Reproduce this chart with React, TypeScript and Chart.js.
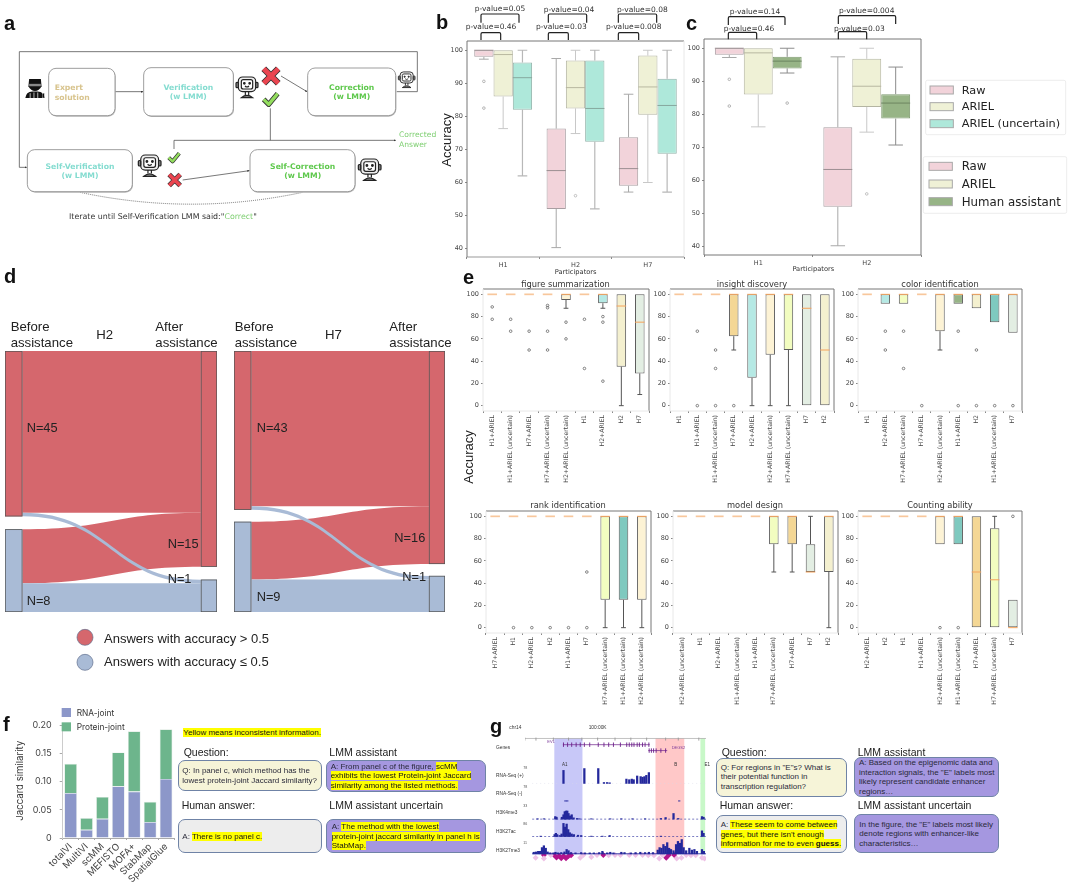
import React, { useEffect, useRef } from "react";
import { Chart, registerables } from "chart.js";
Chart.register(...registerables);

const DJ = "'DejaVu Sans', sans-serif";
const AR = "'Liberation Sans', Arial, sans-serif";
const IN = "Inter, sans-serif";

/* ---------- panel b / c : [low whisker, q1, median, q3, high whisker] ---------- */
const bCats = ["H1", "H2", "H7"];
const bRaw = [[97.3, 98, 100, 100, 100], [40.3, 52, 63.6, 76.3, 97.5], [57.1, 59, 64.2, 73.7, 86.7]];
const bRawFliers = [[90.6, 82.5], [], []];
const bAriel = [[76.3, 86, 98.7, 100, 100], [74.8, 82.4, 88.7, 96.9, 100], [60, 80.5, 88.9, 98.4, 100]];
const bArielFliers = [[], [56], []];
const bUnc = [[62, 82, 91.7, 96.3, 100], [52, 72.3, 82.4, 96.9, 100], [57.1, 68.7, 83.3, 91.4, 100]];
const bUncFliers = [[], [], []];
const cCats = ["H1", "H2"];
const cRaw = [[97.2, 98, 100, 100, 100], [40.2, 52, 63.3, 76.1, 97.4]];
const cRawFliers = [[90.6, 82.5], []];
const cAriel = [[76.2, 86, 98.6, 100, 100], [74.6, 82.2, 88.5, 96.8, 100]];
const cArielFliers = [[], [55.9]];
const cHuman = [[92.5, 93.9, 96.1, 97.4, 100], [70.7, 78.7, 83.4, 86.1, 94.3]];
const cHumanFliers = [[83.4], []];

/* ---------- panel e ---------- */
const F = [100, 100, 100, 100, 100];
const e1Labels = ["H1+ARIEL", "H1+ARIEL (uncertain)", "H7+ARIEL", "H7+ARIEL (uncertain)", "H2+ARIEL (uncertain)", "H1", "H2+ARIEL", "H2", "H7"];
const e1Stats = [F, F, F, F, [87.5, 95, 100, 100, 100], F, [87.5, 92, 100, 100, 100], [0, 35, 89.5, 100, 100], [10, 29, 75, 100, 100]];
const e1Fliers = [[88.7, 77.6], [77.6, 66.9], [66.9, 50], [90, 88, 66.9, 50], [75, 60], [77.6, 33.4], [80, 75, 22], [], []];
const e2Labels = ["H1", "H1+ARIEL", "H1+ARIEL (uncertain)", "H7+ARIEL", "H2+ARIEL", "H2+ARIEL (uncertain)", "H7+ARIEL (uncertain)", "H7", "H2"];
const e2Stats = [F, F, F, [50, 62.4, 100, 100, 100], [0, 25, 100, 100, 100], [0, 45.7, 100, 100, 100], [0, 50, 100, 100, 100], [0, 0, 87.5, 100, 100], [0, 0, 50, 100, 100]];
const e2Fliers = [[], [66.9, 0], [50, 33.4, 0], [0], [], [], [], [], []];
const e3Labels = ["H1", "H2+ARIEL", "H7+ARIEL (uncertain)", "H7+ARIEL", "H2+ARIEL (uncertain)", "H1+ARIEL", "H2", "H1+ARIEL (uncertain)", "H7"];
const e3Stats = [F, [91.5, 91.5, 100, 100, 100], [91.5, 91.5, 100, 100, 100], F, [50, 66.9, 100, 100, 100], [91.5, 91.5, 100, 100, 100], [87.5, 87.5, 100, 100, 100], [75, 75, 100, 100, 100], [65.5, 65.5, 100, 100, 100]];
const e3Fliers = [[], [66.9, 50], [66.9, 33.4], [0], [], [66.9, 0], [50, 0], [0], [0]];
const e4Labels = ["H7+ARIEL", "H1", "H2+ARIEL", "H2", "H1+ARIEL", "H7", "H7+ARIEL (uncertain)", "H1+ARIEL (uncertain)", "H2+ARIEL (uncertain)"];
const e4Stats = [F, F, F, F, F, F, [0, 25, 100, 100, 100], [0, 25, 100, 100, 100], [0, 25, 100, 100, 100]];
const e4Fliers = [[], [0], [0], [0], [0], [50, 0], [], [], []];
const e5Labels = ["H2+ARIEL (uncertain)", "H1", "H2+ARIEL", "H1+ARIEL (uncertain)", "H1+ARIEL", "H7+ARIEL (uncertain)", "H7+ARIEL", "H7", "H2"];
const e5Stats = [F, F, F, F, F, [50, 75, 100, 100, 100], [50, 75, 100, 100, 100], [50, 50, 50, 75, 100], [0, 50, 100, 100, 100]];
const e5Fliers = [[], [], [], [], [], [], [], [], []];
const e6Labels = ["H2+ARIEL", "H2", "H1", "H1+ARIEL", "H2+ARIEL (uncertain)", "H1+ARIEL (uncertain)", "H7+ARIEL", "H7+ARIEL (uncertain)", "H7"];
const e6Stats = [F, F, F, F, [75, 75, 100, 100, 100], [75, 75, 100, 100, 100], [0, 0, 50, 100, 100], [0, 0, 43, 89.3, 100], [0, 0, 0, 25, 25]];
const e6Fliers = [[], [], [], [], [0], [0], [], [], [100]];

const boxColorByLabel: Record<string, string> = {
  H1: "#f2d3da", H2: "#f4f0cf", H7: "#e3eee3",
  "H1+ARIEL": "#97b486", "H2+ARIEL": "#b5e9e4", "H7+ARIEL": "#f4d795",
  "H1+ARIEL (uncertain)": "#7fc9bf", "H2+ARIEL (uncertain)": "#fdf3d5", "H7+ARIEL (uncertain)": "#f2fdc0",
};

/* ---------- panel d ---------- */
const h2Flows = { redRed: 45, redBlue: 1, blueRed: 15, blueBlue: 8 };
const h7Flows = { redRed: 43, redBlue: 1, blueRed: 16, blueBlue: 9 };

/* ---------- panel f ---------- */
const fMethods = ["totalVI", "MultiVI", "scMM", "MEFISTO", "MOFA+", "StabMap", "SpatialGlue"];
const fRna = [0.08, 0.0145, 0.034, 0.092, 0.0826, 0.0285, 0.105];
const fProtein = [0.052, 0.021, 0.039, 0.06, 0.107, 0.036, 0.088];

/* ---------- panel g : [position, signal] ---------- */
const rnaPlus = [[212, 42], [278, 48], [322, 48], [340, 3], [350, 3], [358, 2], [411, 14], [420, 12], [428, 14], [434, 12], [445, 24], [456, 22], [462, 20], [468, 22], [474, 26], [482, 35]];
const rnaMinus = [[218, 1], [224, 1], [578, 1]];
const k4me3 = [[130, 1], [150, 1], [186, 8], [190, 6], [207, 6], [212, 14], [216, 24], [220, 26], [224, 26], [228, 18], [233, 10], [238, 14], [244, 4], [255, 2], [262, 1], [300, 1], [360, 1], [395, 1], [430, 1], [470, 1], [520, 2], [535, 5], [560, 18], [575, 2], [650, 8], [655, 6]];
const k27ac = [[140, 1], [184, 6], [188, 10], [192, 6], [200, 3], [206, 8], [212, 42], [217, 30], [222, 40], [227, 22], [232, 12], [238, 8], [245, 6], [258, 4], [268, 3], [300, 1], [335, 1], [358, 3], [520, 1], [650, 18], [655, 10]];
const k27me3 = [[118, 5], [125, 6], [132, 8], [138, 8], [144, 20], [150, 26], [156, 18], [162, 6], [170, 3], [180, 3], [187, 5], [195, 3], [205, 4], [215, 6], [222, 14], [228, 10], [236, 4], [250, 3], [268, 4], [280, 3], [295, 3], [308, 3], [325, 4], [335, 8], [350, 3], [360, 5], [370, 3], [395, 5], [405, 4], [425, 3], [440, 4], [455, 5], [470, 4], [482, 5], [495, 4], [510, 12], [516, 20], [522, 18], [528, 30], [534, 24], [540, 36], [546, 18], [552, 14], [560, 10], [568, 30], [574, 40], [580, 34], [586, 46], [592, 20], [600, 10], [610, 18], [618, 12], [626, 14], [634, 8], [650, 14], [656, 8]];
const peaksLight = [[124, 17], [150, 15], [172, 26], [265, 17], [275, 26], [300, 20], [318, 26], [355, 25], [375, 26], [392, 26], [420, 26], [440, 26], [462, 26], [480, 25], [498, 25], [515, 15], [525, 26], [570, 15], [585, 17], [600, 26], [615, 25], [630, 25], [650, 17], [658, 15]];
const peaksDark = [[150, 26], [183, 25], [190, 18], [198, 24], [205, 16], [212, 23], [220, 16], [228, 23], [236, 25], [338, 26], [537, 17], [545, 26], [562, 26]];
const geneExons1 = [212, 225, 238, 252, 265, 278, 295, 322, 340, 355, 370, 392, 412, 420, 428, 435, 445, 452, 462, 470, 482];
const geneExons2 = [483, 490, 497, 505, 520, 535];
const rulerTicks = [90, 125, 180, 228, 270, 320, 375, 425, 475, 535, 575, 640];

/* ---------- plugins ---------- */
const boxPlugin = {
  id: "boxes",
  beforeDatasetsDraw(chart: any) {
    const { ctx } = chart;
    const y = chart.scales.y;
    chart.data.datasets.forEach((ds: any, i: number) => {
      chart.getDatasetMeta(i).data.forEach((el: any, j: number) => {
        const [lo, q1, , q3, hi] = ds.stats[j];
        const cap = el.width / 4;
        ctx.save();
        ctx.strokeStyle = ds.whisker;
        ctx.lineWidth = ds.whiskerWidth || 1;
        ctx.beginPath();
        if (lo < q1) {
          ctx.moveTo(el.x, y.getPixelForValue(q1)); ctx.lineTo(el.x, y.getPixelForValue(lo));
          ctx.moveTo(el.x - cap, y.getPixelForValue(lo)); ctx.lineTo(el.x + cap, y.getPixelForValue(lo));
        }
        if (hi > q3) {
          ctx.moveTo(el.x, y.getPixelForValue(q3)); ctx.lineTo(el.x, y.getPixelForValue(hi));
          ctx.moveTo(el.x - cap, y.getPixelForValue(hi)); ctx.lineTo(el.x + cap, y.getPixelForValue(hi));
        }
        ctx.stroke();
        ctx.restore();
      });
    });
  },
  afterDatasetsDraw(chart: any, _a: any, opts: any) {
    const { ctx, chartArea: ca } = chart;
    const y = chart.scales.y;
    chart.data.datasets.forEach((ds: any, i: number) => {
      chart.getDatasetMeta(i).data.forEach((el: any, j: number) => {
        const st = ds.stats[j];
        const flat = st[0] === st[4];
        const med = y.getPixelForValue(st[2]);
        ctx.save();
        ctx.strokeStyle = flat && ds.flatMedian ? ds.flatMedian : ds.median;
        ctx.lineWidth = flat && ds.flatMedian ? 1.7 : 1;
        ctx.beginPath();
        ctx.moveTo(el.x - el.width / 2, med);
        ctx.lineTo(el.x + el.width / 2, med);
        ctx.stroke();
        ctx.strokeStyle = ds.flierColor || "#777";
        ctx.lineWidth = 0.7;
        ds.fliers[j].forEach((v: number) => {
          ctx.beginPath();
          ctx.arc(el.x, y.getPixelForValue(v), 1.3, 0, Math.PI * 2);
          ctx.stroke();
        });
        ctx.restore();
      });
    });
    const s = opts.spines;
    ctx.save();
    ctx.lineWidth = 1;
    const ln = (c: string, a: number, b: number, d: number, e: number) => {
      ctx.strokeStyle = c; ctx.beginPath(); ctx.moveTo(a, b); ctx.lineTo(d, e); ctx.stroke();
    };
    ln(s[0], ca.left, ca.top, ca.right, ca.top);
    ln(s[1], ca.right, ca.top, ca.right, ca.bottom);
    ln(s[2], ca.left, ca.bottom, ca.right, ca.bottom);
    ln(s[3], ca.left, ca.top, ca.left, ca.bottom);
    ctx.restore();
  },
};

const RED = "#d5676d";
const BLUE = "#a9bbd6";
function sankeyPlugin(fl: any, gap: number) {
  return {
    id: "sankey",
    afterDatasetsDraw(chart: any) {
      const { ctx } = chart;
      const X = chart.scales.x, Y = chart.scales.y;
      const xa = X.getPixelForValue(0.082), xb = X.getPixelForValue(0.924);
      const ribbon = (t0: number, t1: number, n: number, c: string) => {
        const a0 = Y.getPixelForValue(t0), a1 = Y.getPixelForValue(t0 + n);
        const b0 = Y.getPixelForValue(t1), b1 = Y.getPixelForValue(t1 + n);
        const m = (xa + xb) / 2;
        ctx.fillStyle = c;
        ctx.beginPath();
        ctx.moveTo(xa, a0);
        ctx.bezierCurveTo(m, a0, m, b0, xb, b0);
        ctx.lineTo(xb, b1);
        ctx.bezierCurveTo(m, b1, m, a1, xa, a1);
        ctx.closePath();
        ctx.fill();
      };
      const leftRed = fl.redRed + fl.redBlue;
      const leftBlue = leftRed + gap;
      const rightRed = fl.redRed + fl.blueRed;
      const rightBlue = rightRed + gap;
      ribbon(0, 0, fl.redRed, RED);
      ribbon(leftBlue, fl.redRed, fl.blueRed, RED);
      ribbon(leftBlue + fl.blueRed, rightBlue + fl.redBlue, fl.blueBlue, BLUE);
      ribbon(fl.redRed, rightBlue, fl.redBlue, BLUE);
      const node = (x0: number, x1: number, t: number, n: number, c: string) => {
        const l = X.getPixelForValue(x0), r = X.getPixelForValue(x1);
        const a = Y.getPixelForValue(t), b = Y.getPixelForValue(t + n);
        ctx.fillStyle = c;
        ctx.fillRect(l, a, r - l, b - a);
        ctx.strokeStyle = "#555";
        ctx.lineWidth = 0.8;
        ctx.strokeRect(l + 0.3, a + 0.3, r - l - 0.6, b - a - 0.6);
      };
      node(0, 0.082, 0, leftRed, RED);
      node(0, 0.082, leftBlue, fl.blueRed + fl.blueBlue, BLUE);
      node(0.924, 1, 0, rightRed, RED);
      node(0.924, 1, rightBlue, fl.redBlue + fl.blueBlue, BLUE);
    },
  };
}

/* ---------- components ---------- */
function Cv({ x, y, w, h, make }: any) {
  const ref = useRef<HTMLCanvasElement>(null);
  useEffect(() => {
    const c = new Chart(ref.current as any, make());
    return () => c.destroy();
  }, []);
  return <canvas ref={ref} width={w} height={h} style={{ position: "absolute", left: x, top: y, width: w, height: h, display: "block" }} />;
}

function BoxChart({ rect, cats, series, yMin, yMax, step, pct, bar, spines, rot, mL, mB, fs }: any) {
  const [l, t, r, b] = rect;
  const mT = 8, mR = 8;
  const w = Math.round(r - l + mL + mR), h = Math.round(b - t + mT + mB);
  return (
    <Cv x={l - mL} y={t - mT} w={w} h={h} make={() => ({
      type: "bar",
      data: {
        labels: cats,
        datasets: series.map((s: any) => ({
          label: s.label,
          data: s.stats.map((v: number[]) => [v[1], v[3]]),
          stats: s.stats, fliers: s.fliers, whisker: s.whisker, median: s.median, flatMedian: s.flatMedian,
          whiskerWidth: s.whiskerWidth, flierColor: s.flierColor,
          backgroundColor: s.color, borderColor: s.edge, borderWidth: 1, borderSkipped: false,
          categoryPercentage: pct, barPercentage: bar,
        })),
      },
      options: {
        animation: false, responsive: false,
        layout: { padding: { top: mT, right: mR, left: 0, bottom: 0 } },
        plugins: { legend: { display: false }, tooltip: { enabled: false }, boxes: { spines } },
        scales: {
          x: {
            border: { display: false },
            grid: { display: true, drawOnChartArea: false, drawTicks: true, tickLength: 2, tickColor: "#888" },
            ticks: { font: { family: DJ, size: fs }, color: "#444", padding: 2, autoSkip: false, maxRotation: rot, minRotation: rot },
            afterFit: (s: any) => { s.height = mB; },
          },
          y: {
            min: yMin, max: yMax,
            border: { display: false },
            grid: { display: true, drawOnChartArea: false, drawTicks: true, tickLength: 2, tickColor: "#888" },
            ticks: { stepSize: step, includeBounds: false, font: { family: DJ, size: 6.5 }, color: "#444", padding: 2 },
            afterFit: (s: any) => { s.width = mL; },
          },
        },
      },
      plugins: [boxPlugin],
    })} />
  );
}

function singleSeries(labels: string[], stats: number[][], fliers: number[][]) {
  return [{
    label: "Accuracy", stats, fliers,
    color: labels.map((k) => boxColorByLabel[k]),
    edge: "#5a5a5a", whisker: "#555", median: "#f6a35a", flatMedian: "#f8c79c", flierColor: "#555",
  }];
}

function EBox({ rect, labels, stats, fliers, spines }: any) {
  return <BoxChart rect={rect} cats={labels} series={singleSeries(labels, stats, fliers)} yMin={-4.8} yMax={104.8} step={20} pct={1} bar={0.52} spines={spines} rot={90} mL={24} mB={78} fs={6.2} />;
}

function Sankey({ x, w, flows, total, gap }: any) {
  return (
    <Cv x={x} y={351} w={w} h={261} make={() => ({
      type: "scatter",
      data: { datasets: [{ data: [] }] },
      options: {
        animation: false, responsive: false,
        plugins: { legend: { display: false }, tooltip: { enabled: false } },
        scales: {
          x: { type: "linear", min: 0, max: 1, display: false },
          y: { type: "linear", min: 0, max: total, reverse: true, display: false },
        },
      },
      plugins: [sankeyPlugin(flows, gap)],
    })} />
  );
}

const regions = [[183, 272], [503, 594], [645, 660]];
const regionFills = ["#c8c8f8", "#ffc8c8", "#c8f8c8"];
const regionPlugin = {
  id: "regions",
  beforeDatasetsDraw(chart: any) {
    const { ctx } = chart;
    const X = chart.scales.x, Y = chart.scales.y;
    regions.forEach(([a, b], i) => {
      ctx.fillStyle = regionFills[i];
      const top = Y.getPixelForValue(402), bot = Y.getPixelForValue(30);
      ctx.fillRect(X.getPixelForValue(a), top, X.getPixelForValue(b) - X.getPixelForValue(a), bot - top);
    });
  },
};

function GenomeChart() {
  const toBars = (arr: number[][], base: number) => arr.map(([x, v]) => ({ x, y: [base, base + v] }));
  const bars = [...toBars(rnaPlus, 257), ...toBars(rnaMinus, 200), ...toBars(k4me3, 142), ...toBars(k27ac, 86), ...toBars(k27me3, 30)];
  const line = (pts: number[][], color: string, w: number, dash?: number[]) => ({
    type: "line", data: pts.map(([x, y]) => ({ x, y })), borderColor: color, borderWidth: w, pointRadius: 0, borderDash: dash || [], tension: 0,
  });
  const marks = (xs: number[], row: number, color: string, style: string, rot: number, r: number) => ({
    type: "scatter", data: xs.map((x) => ({ x, y: row })), pointStyle: style, rotation: rot, pointRadius: r,
    borderColor: color, backgroundColor: color, borderWidth: 0.9,
  });
  const pts = (arr: number[][], color: string) => ({
    type: "scatter", data: arr.map(([x, y]) => ({ x, y })), pointStyle: "rectRot", pointRadius: 3, backgroundColor: color, borderWidth: 0,
  });
  return (
    <Cv x={520} y={728} w={191} h={140} make={() => ({
      data: {
        datasets: [
          { type: "bar", data: bars, backgroundColor: "#24289c", barThickness: 1.6, grouped: false },
          line([[113, 257], [663, 257]], "#d8d8e8", 0.5, [1, 3]),
          line([[113, 142], [663, 142]], "#24289c", 0.6, [2, 2]),
          line([[113, 86], [663, 86]], "#24289c", 0.6, [2, 2]),
          line([[113, 30], [663, 30]], "#24289c", 0.9),
          line([[90, 402], [663, 402]], "#999", 0.6),
          marks(rulerTicks, 400, "#999", "line", 90, 1.5),
          line([[210, 382], [485, 382]], "#6b1f8a", 0.7),
          marks(geneExons1, 382, "#6b1f8a", "line", 90, 2.2),
          line([[480, 363], [540, 363]], "#6b1f8a", 0.7),
          marks(geneExons2, 363, "#6b1f8a", "line", 90, 2.2),
          pts(peaksLight, "#eec2e6"),
          pts(peaksDark, "#b3148c"),
        ],
      },
      options: {
        animation: false, responsive: false,
        plugins: { legend: { display: false }, tooltip: { enabled: false } },
        scales: {
          x: { type: "linear", min: 90, max: 663, display: false, offset: false },
          y: { type: "linear", min: 0, max: 420, display: false },
        },
      },
      plugins: [regionPlugin],
    })} />
  );
}

function Z({ ox, oy, children }: any) {
  return <g transform={`translate(${ox} ${oy}) scale(${1 / 3})`}>{children}</g>;
}
function Tx({ x, y, s, f, c, a, b, rot, children }: any) {
  return (
    <text x={x} y={y} fontSize={s * 3} fontFamily={f || AR} fill={c || "#222"} textAnchor={a || "start"} dominantBaseline="central"
      fontWeight={b ? "bold" : "normal"} transform={rot ? `rotate(${rot} ${x} ${y})` : undefined}>{children}</text>
  );
}
function Robot({ x, y, s }: any) {
  const k = s / 66;
  return (
    <g transform={`translate(${x} ${y}) scale(${k})`} stroke="#222" fill="none" strokeWidth="3.5">
      <rect x="-26" y="-32" width="52" height="44" rx="13" fill="#eee" />
      <rect x="-17" y="-24" width="34" height="28" rx="6" fill="#fff" />
      <rect x="-33" y="-16" width="7" height="16" rx="3" fill="#888" />
      <rect x="26" y="-16" width="7" height="16" rx="3" fill="#888" />
      <circle cx="-8" cy="-13" r="2.4" fill="#222" />
      <circle cx="8" cy="-13" r="2.4" fill="#222" />
      <path d="M-6 -5 Q0 1 6 -5" />
      <path d="M-5 12 V22 M5 12 V22" />
      <path d="M-17 30 Q0 16 17 30 Z" fill="#888" />
    </g>
  );
}
function Human({ x, y, s }: any) {
  const k = s / 56;
  return (
    <g transform={`translate(${x} ${y}) scale(${k})`}>
      <path d="M-17 -27 H17 L19 -6 Q12 8 0 8 Q-12 8 -19 -6 Z" fill="#111" />
      <rect x="-17" y="-13" width="34" height="7" fill="#888" />
      <path d="M-28 28 Q-26 10 -8 9 H8 Q26 10 28 28 Z" fill="#111" />
      <path d="M-14 14 V28 M-3 12 V28 M8 12 V28" stroke="#fff" strokeWidth="2" />
      <rect x="22" y="14" width="5" height="14" fill="#111" stroke="#fff" />
    </g>
  );
}
function Mark({ x, y, s, kind }: any) {
  const d = kind === "x" ? "M-.33 -.33 L.33 .33 M.33 -.33 L-.33 .33" : "M-.36 .02 L-.1 .28 L.36 -.28";
  const fill = kind === "x" ? "#ea4550" : "#93dd5e";
  const outer = kind === "x" ? 0.3 : 0.26;
  const inner = kind === "x" ? 0.22 : 0.17;
  return (
    <g transform={`translate(${x} ${y}) scale(${s})`} fill="none">
      <path d={d} stroke="#333" strokeWidth={outer} strokeLinejoin="round" />
      <path d={d} stroke={fill} strokeWidth={inner} strokeLinejoin="round" />
    </g>
  );
}
function StepBox({ x, y, w, h, c, lines, tx, b }: any) {
  return (
    <g>
      <rect x={x + 2} y={y + 3} width={w} height={h} rx="22" fill="#bbb" />
      <rect x={x} y={y} width={w} height={h} rx="22" fill="#fff" stroke="#8a8a8a" strokeWidth="2.5" />
      {lines.map((t: string, i: number) => (
        <Tx key={i} x={tx} y={y + h / 2 - 14 + i * 29} s={7.7} f={DJ} c={c} a={!b ? "middle" : "start"} b>{t}</Tx>
      ))}
    </g>
  );
}
function Bracket({ x0, x1, y0, y1 }: any) {
  return <path d={`M${x0} ${y1} V${y0 + 4} Q${x0} ${y0} ${x0 + 4} ${y0} H${x1 - 4} Q${x1} ${y0} ${x1} ${y0 + 4} V${y1}`} fill="none" stroke="#222" strokeWidth="3.6" />;
}
function LegendBox({ x, y, w, h, items }: any) {
  return (
    <g>
      <rect x={x} y={y} width={w} height={h} rx="5" fill="#fff" stroke="#e4e4e4" strokeWidth="2" />
      {items.map((it: any, i: number) => (
        <g key={i}>
          <rect x={it.px} y={it.y - 12} width={70} height={24} fill={it.c} stroke="#a8a8a8" strokeWidth="3" />
          <Tx x={it.tx} y={it.y} s={it.s} f={DJ} c="#222">{it.t}</Tx>
        </g>
      ))}
    </g>
  );
}

function Lines({ ox, oy, x, ys, runs, size }: any) {
  return (
    <>
      {runs.map((r: any[], i: number) => (
        <div key={i} style={{ position: "absolute", left: ox + x / 3, top: oy + ys[i] / 3 - 5, lineHeight: "10px", height: 10, fontSize: size || 8, whiteSpace: "pre", fontFamily: AR, color: "#222" }}>
          {r.map((p: any, j: number) => (
            <span key={j} style={{ background: p.h ? "#ffff00" : "transparent", fontWeight: p.b ? "bold" : "normal", color: p.h ? "#111" : "#2a2a3a" }}>{p.t}</span>
          ))}
        </div>
      ))}
    </>
  );
}
function RBox({ ox, oy, x0, x1, y0, y1, fill }: any) {
  return <div style={{ position: "absolute", left: ox + x0 / 3, top: oy + y0 / 3, width: (x1 - x0) / 3, height: (y1 - y0) / 3, boxSizing: "border-box", background: fill, border: "1px solid #6f83a6", borderRadius: 7 }} />;
}

const rawStyle = { color: "#f2d3da", edge: "#a99ea2", whisker: "#a8a8a8", median: "#9c8f92" };
const arielStyle = { color: "#eff1d6", edge: "#b4b5a2", whisker: "#c8c8c8", median: "#b8b8a0" };
const uncStyle = { color: "#aee8da", edge: "#93b3aa", whisker: "#b8b8b8", median: "#86a89e", whiskerWidth: 1.2 };
const humanStyle = { color: "#97b486", edge: "#7f9a70", whisker: "#8c8c8c", median: "#6c8560" };

export default function App() {
  const sp1 = ["#777", "#777", "#e8e8e8", "#e8e8e8"];
  const PANELS: [string, number, number][] = [["a", 4, 23], ["b", 436, 22], ["c", 686, 23], ["d", 4, 276], ["e", 463, 277], ["f", 3, 724], ["g", 490, 726]];
  return (
    <div style={{ position: "absolute", left: 0, top: 0, width: 1080, height: 893, overflow: "hidden", background: "#fff" }}>
      <BoxChart rect={[466.7, 40.7, 684, 256.7]} cats={bCats} pct={0.8} bar={1} yMin={37.46} yMax={102.8} step={10} rot={0} mL={24} mB={12} fs={6.5}
        spines={["#777", "#e8e8e8", "#999", "#777"]}
        series={[
          { label: "Raw", stats: bRaw, fliers: bRawFliers, flierColor: "#999", ...rawStyle },
          { label: "ARIEL", stats: bAriel, fliers: bArielFliers, flierColor: "#aaa", ...arielStyle },
          { label: "ARIEL (uncertain)", stats: bUnc, fliers: bUncFliers, ...uncStyle },
        ]} />
      <BoxChart rect={[704.3, 39.3, 921.7, 255.3]} cats={cCats} pct={0.8} bar={1} yMin={37.4} yMax={102.8} step={10} rot={0} mL={20} mB={12} fs={6.5}
        spines={["#777", "#777", "#777", "#777"]}
        series={[
          { label: "Raw", stats: cRaw, fliers: cRawFliers, flierColor: "#999", ...rawStyle },
          { label: "ARIEL", stats: cAriel, fliers: cArielFliers, flierColor: "#aaa", ...arielStyle },
          { label: "Human assistant", stats: cHuman, fliers: cHumanFliers, flierColor: "#999", ...humanStyle },
        ]} />

      <Sankey x={5} w={212} flows={h2Flows} total={72.6} gap={3.6} />
      <Sankey x={234} w={211} flows={h7Flows} total={72.3} gap={3.3} />

      <EBox rect={[482.7, 289.3, 648.3, 411.7]} labels={e1Labels} stats={e1Stats} fliers={e1Fliers} spines={sp1} />
      <EBox rect={[670, 289.3, 834.3, 411.7]} labels={e2Labels} stats={e2Stats} fliers={e2Fliers} spines={sp1} />
      <EBox rect={[858.3, 289.3, 1022.3, 411.7]} labels={e3Labels} stats={e3Stats} fliers={e3Fliers} spines={sp1} />
      <EBox rect={[486, 510.7, 651, 632.7]} labels={e4Labels} stats={e4Stats} fliers={e4Fliers} spines={sp1} />
      <EBox rect={[672.7, 510.7, 837.7, 632.7]} labels={e5Labels} stats={e5Stats} fliers={e5Fliers} spines={sp1} />
      <EBox rect={[858.3, 510.7, 1022.3, 632.7]} labels={e6Labels} stats={e6Stats} fliers={e6Fliers} spines={sp1} />

      <Cv x={1} y={712} w={180} h={181} make={() => ({
        type: "bar",
        data: {
          labels: fMethods,
          datasets: [
            { label: "RNA-joint", data: fRna, backgroundColor: "#8c97c9", borderColor: "#dce4e8", borderWidth: 0.7, barPercentage: 0.8, categoryPercentage: 1 },
            { label: "Protein-joint", data: fProtein, backgroundColor: "#6db58c", borderColor: "#dce8e0", borderWidth: 0.7, barPercentage: 0.8, categoryPercentage: 1 },
          ],
        },
        options: {
          animation: false, responsive: false,
          layout: { padding: { top: 0, right: 7, left: 0, bottom: 0 } },
          plugins: { legend: { display: false }, tooltip: { enabled: false } },
          scales: {
            x: {
              stacked: true, border: { color: "#aaa" },
              grid: { display: true, drawOnChartArea: false, drawTicks: true, tickLength: 2, tickColor: "#aaa" },
              ticks: { font: { family: IN, size: 9.5 }, color: "#444", padding: 1, autoSkip: false, maxRotation: 45, minRotation: 45 },
              afterFit: (s: any) => { s.height = 55; },
            },
            y: {
              stacked: true, min: 0, max: 0.2,
              border: { color: "#ccc" },
              grid: { display: true, drawOnChartArea: false, drawTicks: true, tickLength: 3, tickColor: "#aaa" },
              ticks: { stepSize: 0.05, font: { family: IN, size: 9 }, color: "#444", padding: 8, callback: (v: number) => (v === 0 ? "0" : v.toFixed(2)) },
              afterFit: (s: any) => { s.width = 61.7; },
            },
          },
        },
      })} />

      <GenomeChart />

      <RBox ox={175} oy={695} x0={8} x1={440} y0={196} y1={288} fill="#f6f4d8" />
      <RBox ox={175} oy={695} x0={454} x1={932} y0={195} y1={290} fill="#a597e0" />
      <RBox ox={175} oy={695} x0={8} x1={442} y0={373} y1={475} fill="#ededed" />
      <RBox ox={175} oy={695} x0={454} x1={932} y0={373} y1={475} fill="#a597e0" />
      <RBox ox={715} oy={695} x0={4} x1={395} y0={188} y1={305} fill="#f6f4d8" />
      <RBox ox={715} oy={695} x0={417} x1={851} y0={187} y1={306} fill="#a597e0" />
      <RBox ox={715} oy={695} x0={4} x1={395} y0={361} y1={475} fill="#ededed" />
      <RBox ox={715} oy={695} x0={418} x1={852} y0={358} y1={475} fill="#a597e0" />

      <Lines ox={175} oy={695} x={25} ys={[114]} runs={[[{ t: "Yellow means inconsistent information.", h: 1 }]]} />
      <Lines ox={175} oy={695} x={22} ys={[229, 258]} runs={[[{ t: "Q: In panel c, which method has the" }], [{ t: "lowest protein-joint Jaccard similarity?" }]]} />
      <Lines ox={175} oy={695} x={467} ys={[215, 244, 273]} runs={[
        [{ t: "A: From panel c of the figure, " }, { t: "scMM", h: 1 }],
        [{ t: "exhibits the lowest Protein-joint Jaccard", h: 1 }],
        [{ t: "similarity among the listed methods.", h: 1 }],
      ]} />
      <Lines ox={175} oy={695} x={22} ys={[426]} runs={[[{ t: "A: " }, { t: "There is no panel c.", h: 1 }]]} />
      <Lines ox={175} oy={695} x={470} ys={[397, 426, 454]} runs={[
        [{ t: "A: " }, { t: "The method with the lowest", h: 1 }],
        [{ t: "protein-joint jaccard similarity in panel h is", h: 1 }],
        [{ t: "StabMap.", h: 1 }],
      ]} />
      <Lines ox={715} oy={695} x={17} ys={[218, 247, 276]} runs={[
        [{ t: "Q: For regions in \"E\"s? What is" }], [{ t: "their potential function in" }], [{ t: "transcription regulation?" }],
      ]} />
      <Lines ox={715} oy={695} x={432} ys={[205, 234, 262, 291]} runs={[
        [{ t: "A: Based on the epigenomic data and" }], [{ t: "interaction signals, the \"E\" labels most" }],
        [{ t: "likely represent candidate enhancer" }], [{ t: "regions…" }],
      ]} />
      <Lines ox={715} oy={695} x={17} ys={[391, 420, 448]} runs={[
        [{ t: "A: " }, { t: "These seem to come between", h: 1 }],
        [{ t: "genes, but there isn't enough", h: 1 }],
        [{ t: "information for me to even ", h: 1 }, { t: "guess", h: 1, b: 1 }, { t: ".", h: 1 }],
      ]} />
      <Lines ox={715} oy={695} x={433} ys={[390, 418, 447]} runs={[
        [{ t: "In the figure, the \"E\" labels most likely" }], [{ t: "denote regions with enhancer-like" }], [{ t: "characteristics…" }],
      ]} />

      <svg width={1080} height={893} style={{ position: "absolute", left: 0, top: 0, pointerEvents: "none" }}>
        <defs>
          <marker id="ah" markerWidth="8" markerHeight="8" refX="6" refY="3" orient="auto" markerUnits="userSpaceOnUse">
            <path d="M0 0 L7 3 L0 6 Z" fill="#333" />
          </marker>
        </defs>
        {PANELS.map(([t, x, y]) => (
          <text key={t} x={x} y={y} fontSize={20} fontWeight="bold" fontFamily={AR} fill="#111" dominantBaseline="central">{t}</text>
        ))}

        {/* panel a */}
        <Z ox={0} oy={0}>
          <g fill="none" stroke="#555" strokeWidth="2.4">
            <path d="M1190 275 H1252 V155 H58 V502 H80" markerEnd="url(#ah)" />
            <path d="M345 275 H429" markerEnd="url(#ah)" />
            <path d="M843 228 L921 275" markerEnd="url(#ah)" />
            <path d="M811 325 V421" />
            <path d="M522 447 V421 H1187" markerEnd="url(#ah)" />
            <path d="M548 540 L748 512" markerEnd="url(#ah)" />
            <path d="M240 577 Q574 648 908 577" strokeDasharray="3 3" strokeWidth="2.2" stroke="#444" />
          </g>
          <StepBox x={146} y={205} w={199} h={142} c="#d8c48e" tx={164} b lines={["Expert", "solution"]} />
          <StepBox x={431} y={203} w={269} h={145} c="#84dcd0" tx={565} lines={["Verification", "(w LMM)"]} />
          <StepBox x={923} y={204} w={264} h={143} c="#5ec84c" tx={1055} lines={["Correction", "(w LMM)"]} />
          <StepBox x={82} y={449} w={315} h={126} c="#84dcd0" tx={240} lines={["Self-Verification", "(w LMM)"]} />
          <StepBox x={750} y={449} w={315} h={126} c="#5ec84c" tx={908} lines={["Self-Correction", "(w LMM)"]} />
          <Human x={105} y={265} s={58} />
          <Robot x={741} y={263} s={66} />
          <Robot x={1220} y={240} s={50} />
          <Robot x={449} y={498} s={68} />
          <Robot x={1109} y={510} s={68} />
          <Mark x={813} y={228} s={66} kind="x" />
          <Mark x={812} y={297} s={58} kind="c" />
          <Mark x={522} y={472} s={44} kind="c" />
          <Mark x={524} y={540} s={50} kind="x" />
          <Tx x={1197} y={404} s={7.6} f={DJ} c="#7fcf72">Corrected</Tx>
          <Tx x={1197} y={433} s={7.6} f={DJ} c="#7fcf72">Answer</Tx>
          <text x={207} y={648} fontSize={23.7} fontFamily={DJ} fill="#333" dominantBaseline="central">
            Iterate until Self-Verification LMM said:"<tspan fill="#7fcf72">Correct</tspan>"
          </text>
        </Z>

        {/* panel b */}
        <Z ox={430} oy={0}>
          <Bracket x0={153} x1={212} y0={98} y1={120} />
          <Bracket x0={153} x1={267} y0={42} y1={68} />
          <Bracket x0={355} x1={415} y0={98} y1={120} />
          <Bracket x0={355} x1={470} y0={42} y1={68} />
          <Bracket x0={565} x1={626} y0={98} y1={120} />
          <Bracket x0={565} x1={680} y0={42} y1={68} />
          <Tx x={183} y={80} s={7.5} f={DJ} a="middle" c="#333">p-value=0.46</Tx>
          <Tx x={210} y={26} s={7.5} f={DJ} a="middle" c="#333">p-value=0.05</Tx>
          <Tx x={394} y={80} s={7.5} f={DJ} a="middle" c="#333">p-value=0.03</Tx>
          <Tx x={417} y={27} s={7.5} f={DJ} a="middle" c="#333">p-value=0.04</Tx>
          <Tx x={611} y={80} s={7.5} f={DJ} a="middle" c="#333">p-value=0.008</Tx>
          <Tx x={637} y={27} s={7.5} f={DJ} a="middle" c="#333">p-value=0.08</Tx>
          <Tx x={50} y={420} s={13} a="middle" rot={-90} c="#222">Accuracy</Tx>
          <Tx x={437} y={815} s={6.7} f={DJ} a="middle" c="#333">Participators</Tx>
        </Z>

        {/* panel c + legends */}
        <Z ox={690} oy={0}>
          <Bracket x0={115} x1={200} y0={97} y1={118} />
          <Bracket x0={115} x1={285} y0={50} y1={75} />
          <Bracket x0={445} x1={530} y0={95} y1={118} />
          <Bracket x0={445} x1={617} y0={47} y1={72} />
          <Tx x={177} y={84} s={7.5} f={DJ} a="middle" c="#333">p-value=0.46</Tx>
          <Tx x={195} y={33} s={7.5} f={DJ} a="middle" c="#333">p-value=0.14</Tx>
          <Tx x={508} y={84} s={7.5} f={DJ} a="middle" c="#333">p-value=0.03</Tx>
          <Tx x={530} y={30} s={7.5} f={DJ} a="middle" c="#333">p-value=0.004</Tx>
          <Tx x={370} y={808} s={6.7} f={DJ} a="middle" c="#333">Participators</Tx>
          <LegendBox x={707} y={241} w={420} h={163} items={[
            { px: 720, tx: 815, y: 270, c: "#f2d3da", t: "Raw", s: 11.3 },
            { px: 720, tx: 815, y: 320, c: "#eff1d6", t: "ARIEL", s: 11.3 },
            { px: 720, tx: 815, y: 371, c: "#aee8da", t: "ARIEL (uncertain)", s: 11.3 },
          ]} />
          <LegendBox x={700} y={470} w={430} h={170} items={[
            { px: 717, tx: 815, y: 499, c: "#f2d3da", t: "Raw", s: 11.8 },
            { px: 717, tx: 815, y: 552, c: "#eff1d6", t: "ARIEL", s: 11.8 },
            { px: 717, tx: 815, y: 605, c: "#97b486", t: "Human assistant", s: 11.8 },
          ]} />
        </Z>

        {/* panel d */}
        <Z ox={0} oy={300}>
          <Tx x={32} y={78} s={13.2}>Before</Tx>
          <Tx x={32} y={126} s={13.2}>assistance</Tx>
          <Tx x={289} y={102} s={13.2}>H2</Tx>
          <Tx x={466} y={78} s={13.2}>After</Tx>
          <Tx x={466} y={126} s={13.2}>assistance</Tx>
          <Tx x={704} y={78} s={13.2}>Before</Tx>
          <Tx x={704} y={126} s={13.2}>assistance</Tx>
          <Tx x={975} y={102} s={13.2}>H7</Tx>
          <Tx x={1168} y={78} s={13.2}>After</Tx>
          <Tx x={1168} y={126} s={13.2}>assistance</Tx>
          <Tx x={80} y={382} s={12.8}>N=45</Tx>
          <Tx x={503} y={730} s={12.8}>N=15</Tx>
          <Tx x={503} y={835} s={12.8}>N=1</Tx>
          <Tx x={80} y={900} s={12.8}>N=8</Tx>
          <Tx x={770} y={382} s={12.8}>N=43</Tx>
          <Tx x={1183} y={712} s={12.8}>N=16</Tx>
          <Tx x={1207} y={829} s={12.8}>N=1</Tx>
          <Tx x={770} y={889} s={12.8}>N=9</Tx>
          <circle cx={255} cy={1012} r={24} fill={RED} stroke="#5a6a8a" strokeWidth="2" />
          <circle cx={255} cy={1087} r={24} fill={BLUE} stroke="#5a6a8a" strokeWidth="2" />
          <Tx x={312} y={1014} s={13}>Answers with accuracy &gt; 0.5</Tx>
          <Tx x={312} y={1085} s={13}>Answers with accuracy ≤ 0.5</Tx>
        </Z>

        {/* panel e titles */}
        <g fontFamily={DJ}>
          <text x={565.5} y={284} fontSize={8.3} fontFamily={DJ} textAnchor="middle" dominantBaseline="central" fill="#333">figure summarization</text>
          <text x={752} y={284} fontSize={8.3} fontFamily={DJ} textAnchor="middle" dominantBaseline="central" fill="#333">insight discovery</text>
          <text x={940} y={284} fontSize={8.3} fontFamily={DJ} textAnchor="middle" dominantBaseline="central" fill="#333">color identification</text>
          <text x={568} y={505} fontSize={8.3} fontFamily={DJ} textAnchor="middle" dominantBaseline="central" fill="#333">rank identification</text>
          <text x={755} y={505} fontSize={8.3} fontFamily={DJ} textAnchor="middle" dominantBaseline="central" fill="#333">model design</text>
          <text x={940} y={505} fontSize={8.3} fontFamily={DJ} textAnchor="middle" dominantBaseline="central" fill="#333">Counting ability</text>
        </g>
        <text x={468} y={457} fontSize={13} fontFamily={AR} textAnchor="middle" dominantBaseline="central" fill="#222" transform="rotate(-90 468 457)">Accuracy</text>

        {/* panel f */}
        <Z ox={0} oy={690}>
          <rect x={185} y={54} width={28} height={27} fill="#8c97c9" />
          <rect x={185} y={97} width={28} height={27} fill="#6db58c" />
          <Tx x={230} y={68} s={8.3} f={IN} c="#333">RNA-joint</Tx>
          <Tx x={230} y={110} s={8.3} f={IN} c="#333">Protein-joint</Tx>
          <Tx x={60} y={272} s={9.6} f={IN} a="middle" rot={-90} c="#333">Jaccard similarity</Tx>
        </Z>

        {/* panel f/g headings */}
        <Z ox={175} oy={695}>
          <Tx x={26} y={171} s={10.5} c="#222">Question:</Tx>
          <Tx x={463} y={171} s={10.5} c="#222">LMM assistant</Tx>
          <Tx x={20} y={330} s={10.5} c="#222">Human answer:</Tx>
          <Tx x={463} y={330} s={10.5} c="#222">LMM assistant uncertain</Tx>
        </Z>
        <Z ox={715} oy={695}>
          <Tx x={20} y={170} s={10.5} c="#222">Question:</Tx>
          <Tx x={428} y={170} s={10.5} c="#222">LMM assistant</Tx>
          <Tx x={14} y={330} s={10.5} c="#222">Human answer:</Tx>
          <Tx x={428} y={330} s={10.5} c="#222">LMM assistant uncertain</Tx>
        </Z>
        <Z ox={490} oy={695}>
          <Tx x={58} y={97} s={4.8} c="#333">chr14</Tx>
          <Tx x={296} y={97} s={4.8} c="#333">100:00K</Tx>
          <Tx x={18} y={157} s={4.8} c="#333">Genes</Tx>
          <Tx x={18} y={240} s={4.8} c="#333">RNA-Seq (+)</Tx>
          <Tx x={18} y={296} s={4.8} c="#333">RNA-Seq (-)</Tx>
          <Tx x={18} y={353} s={4.8} c="#333">H3K4me3</Tx>
          <Tx x={18} y={410} s={4.8} c="#333">H3K27ac</Tx>
          <Tx x={18} y={467} s={4.8} c="#333">H3K27me3</Tx>
          <Tx x={100} y={218} s={3.6} c="#555">78</Tx>
          <Tx x={100} y={275} s={3.6} c="#555">78</Tx>
          <Tx x={100} y={332} s={3.6} c="#555">33</Tx>
          <Tx x={100} y={388} s={3.6} c="#555">86</Tx>
          <Tx x={100} y={444} s={3.6} c="#555">11</Tx>
          <Tx x={224} y={209} s={4.5} a="middle" c="#333">A1</Tx>
          <Tx x={557} y={209} s={4.5} a="middle" c="#333">B</Tx>
          <Tx x={652} y={209} s={4.5} a="middle" c="#333">E1</Tx>
          <Tx x={172} y={140} s={4} c="#7b3a9a">EVL</Tx>
          <Tx x={545} y={157} s={4} c="#7b3a9a">DEGS2</Tx>
        </Z>
      </svg>
    </div>
  );
}
